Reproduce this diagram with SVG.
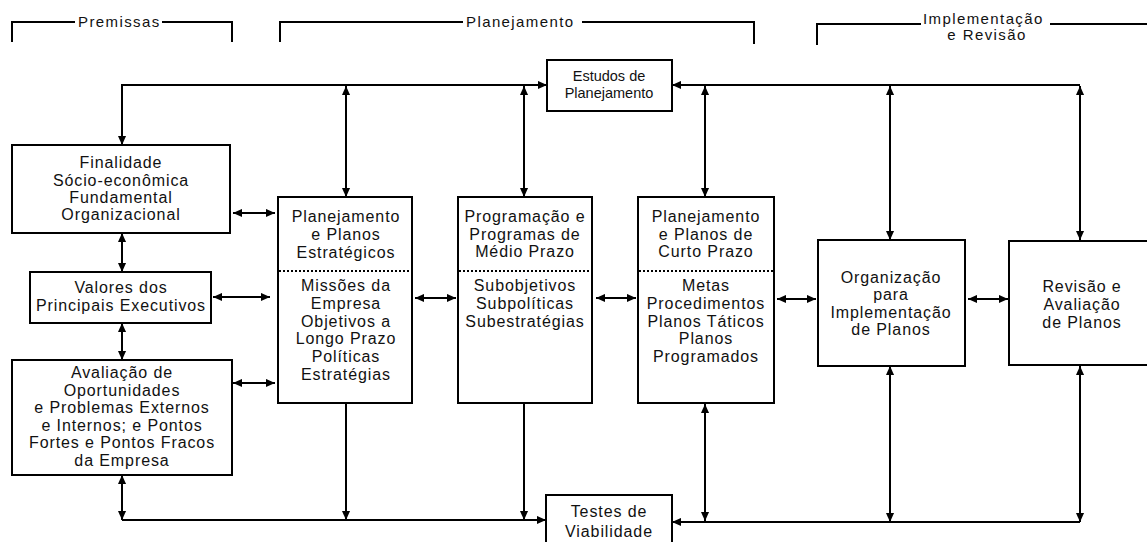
<svg xmlns="http://www.w3.org/2000/svg" width="1147" height="542" viewBox="0 0 1147 542">
<style>
.box{fill:#fff;stroke:#000;stroke-width:2}
.div{stroke:#000;stroke-width:2;stroke-dasharray:2,2;fill:none}
.ln{stroke:#000;stroke-width:2;fill:none}
.t{font-family:"Liberation Sans",Arial,sans-serif;font-size:16px;letter-spacing:0.9px;text-anchor:middle;fill:#111}
.s{font-size:14.5px;letter-spacing:0px}
.h{font-family:"Liberation Sans",Arial,sans-serif;font-size:15px;letter-spacing:1.4px;fill:#111}
.a2{marker-start:url(#ah);marker-end:url(#ah)}
.a1{marker-end:url(#ah)}
</style>
<defs>
<marker id="ah" viewBox="0 0 10 10" refX="10" refY="5" markerWidth="9" markerHeight="9" markerUnits="userSpaceOnUse" orient="auto-start-reverse">
<path d="M0,0.5 L10,5 L0,9.5 z" fill="#000"/>
</marker>
</defs>
<rect width="1147" height="542" fill="#fff"/>

<g id="headers">
<path class="ln" d="M12,42 V22 H75 M162,22 H232 V42"/>
<text class="h" x="78" y="27">Premissas</text>
<path class="ln" d="M280,42 V22 H463 M582,22 H754 V44"/>
<text class="h" x="466" y="27">Planejamento</text>
<path class="ln" d="M817,45 V24 H921 M1050,24 H1147"/>
<text class="h" x="923" y="24">Implementação</text>
<text class="h" x="987" y="40" text-anchor="middle">e Revisão</text>
</g>

<g id="connectors">
<path class="ln a2" d="M547,85 H122 V145"/>
<path class="ln" d="M672,85 H1080" marker-start="url(#ah)"/>
<path class="ln a2" d="M346,86 V197"/>
<path class="ln a2" d="M524,86 V197"/>
<path class="ln a2" d="M705,86 V197"/>
<path class="ln a2" d="M890,86 V240"/>
<path class="ln a2" d="M1080,86 V240"/>
<path class="ln a2" d="M122,233 V272"/>
<path class="ln a2" d="M122,323 V360"/>
<path class="ln a2" d="M122,475 V520"/>
<path class="ln a1" d="M122,520 H546"/>
<path class="ln a1" d="M346,403 V520"/>
<path class="ln a1" d="M524,403 V520"/>
<path class="ln a2" d="M705,404 V521"/>
<path class="ln a1" d="M1080,522 H672"/>
<path class="ln a2" d="M890,366 V522"/>
<path class="ln a2" d="M1080,366 V522"/>
<path class="ln a2" d="M233,213 H275"/>
<path class="ln a2" d="M213,297 H270"/>
<path class="ln a2" d="M233,383 H275"/>
<path class="ln a2" d="M415,298 H456"/>
<path class="ln a2" d="M596,298 H636"/>
<path class="ln a2" d="M777,299 H816"/>
<path class="ln a2" d="M968,299 H1008"/>
</g>

<g id="estudos">
<rect class="box" x="547" y="60" width="125" height="51"/>
<text class="t s" x="609" y="81">Estudos de</text>
<text class="t s" x="609" y="98">Planejamento</text>
</g>

<g id="finalidade">
<rect class="box" x="12" y="145" width="218" height="88"/>
<text class="t" x="121" y="168">Finalidade</text>
<text class="t" x="121" y="186">Sócio-econômica</text>
<text class="t" x="121" y="203">Fundamental</text>
<text class="t" x="121" y="220">Organizacional</text>
</g>

<g id="valores">
<rect class="box" x="30" y="272" width="181" height="51"/>
<text class="t" x="121" y="293">Valores dos</text>
<text class="t" x="121" y="311">Principais Executivos</text>
</g>

<g id="avaliacao">
<rect class="box" x="12" y="360" width="220" height="115"/>
<text class="t" x="122" y="378">Avaliação de</text>
<text class="t" x="122" y="396">Oportunidades</text>
<text class="t" x="122" y="413">e Problemas Externos</text>
<text class="t" x="122" y="431">e Internos; e Pontos</text>
<text class="t" x="122" y="448">Fortes e Pontos Fracos</text>
<text class="t" x="122" y="466">da Empresa</text>
</g>

<g id="estrategicos">
<rect class="box" x="278" y="197" width="134" height="206"/>
<line class="div" x1="279" y1="271" x2="411" y2="271"/>
<text class="t" x="346" y="222">Planejamento</text>
<text class="t" x="346" y="240">e Planos</text>
<text class="t" x="346" y="258">Estratégicos</text>
<text class="t" x="346" y="291">Missões da</text>
<text class="t" x="346" y="309">Empresa</text>
<text class="t" x="346" y="327">Objetivos a</text>
<text class="t" x="346" y="344">Longo Prazo</text>
<text class="t" x="346" y="362">Políticas</text>
<text class="t" x="346" y="380">Estratégias</text>
</g>

<g id="medio">
<rect class="box" x="458" y="197" width="134" height="206"/>
<line class="div" x1="459" y1="271" x2="591" y2="271"/>
<text class="t" x="525" y="222">Programação e</text>
<text class="t" x="525" y="240">Programas de</text>
<text class="t" x="525" y="257">Médio Prazo</text>
<text class="t" x="525" y="291">Subobjetivos</text>
<text class="t" x="525" y="309">Subpolíticas</text>
<text class="t" x="525" y="327">Subestratégias</text>
</g>

<g id="curto">
<rect class="box" x="638" y="197" width="136" height="206"/>
<line class="div" x1="639" y1="271" x2="773" y2="271"/>
<text class="t" x="706" y="222">Planejamento</text>
<text class="t" x="706" y="240">e Planos de</text>
<text class="t" x="706" y="257">Curto Prazo</text>
<text class="t" x="706" y="291">Metas</text>
<text class="t" x="706" y="309">Procedimentos</text>
<text class="t" x="706" y="327">Planos Táticos</text>
<text class="t" x="706" y="344">Planos</text>
<text class="t" x="706" y="362">Programados</text>
</g>

<g id="organizacao">
<rect class="box" x="818" y="240" width="147" height="126"/>
<text class="t" x="891" y="283">Organização</text>
<text class="t" x="891" y="300">para</text>
<text class="t" x="891" y="318">Implementação</text>
<text class="t" x="891" y="335">de Planos</text>
</g>

<g id="revisao">
<rect class="box" x="1009" y="241" width="150" height="124"/>
<text class="t" x="1082" y="292">Revisão e</text>
<text class="t" x="1082" y="310">Avaliação</text>
<text class="t" x="1082" y="328">de Planos</text>
</g>

<g id="testes">
<rect class="box" x="546" y="495" width="126" height="60"/>
<text class="t" x="609" y="517">Testes de</text>
<text class="t" x="609" y="537">Viabilidade</text>
</g>
</svg>
